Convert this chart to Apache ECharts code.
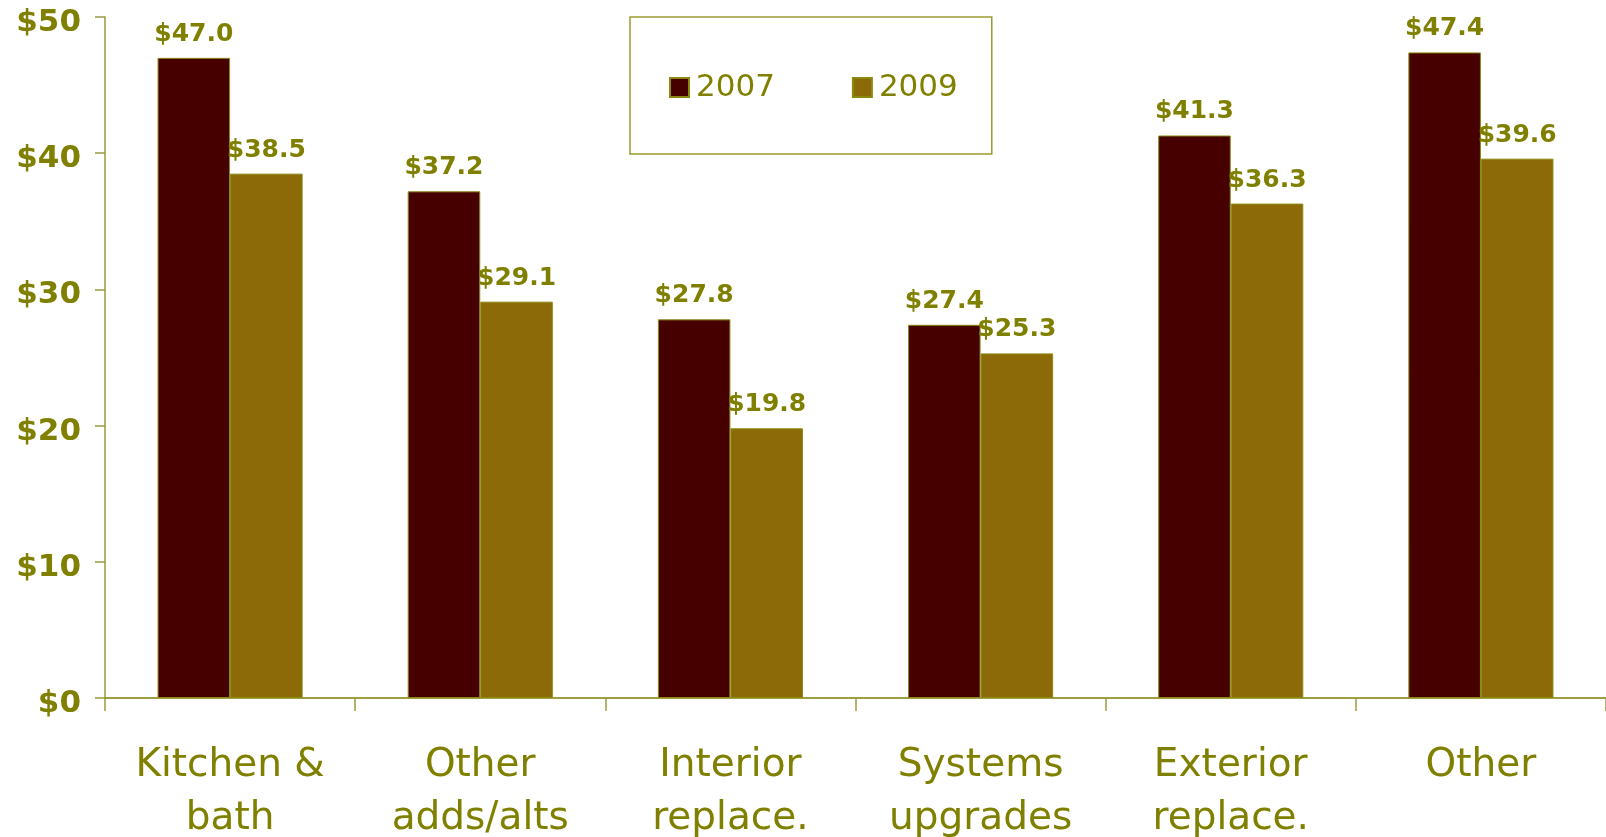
<!DOCTYPE html>
<html>
<head>
<meta charset="utf-8">
<script src="https://cdn.jsdelivr.net/npm/echarts@6/dist/echarts.min.js"></script>
<style>
html,body{margin:0;padding:0;background:#fff;}
#chart{width:1606px;height:837px;}
</style>
</head>
<body>
<div id="chart"></div>
<script>
const categories = ['Kitchen &\nbath', 'Other\nadds/alts', 'Interior\nreplace.', 'Systems\nupgrades', 'Exterior\nreplace.', 'Other'];
const values2007 = [47.0, 37.2, 27.8, 27.4, 41.3, 47.4];
const values2009 = [38.5, 29.1, 19.8, 25.3, 36.3, 39.6];
const seriesNames = ['2007', '2009'];
const yTicks = { min: 0, max: 50, interval: 10 };

const olive = '#808000';
const font = 'DejaVu Sans';

const chart = echarts.init(document.getElementById('chart'), null, { renderer: 'canvas' });

const labelCfg = {
  show: true,
  position: 'top',
  distance: 11,
  color: olive,
  fontFamily: font,
  fontWeight: 'bold',
  fontSize: 25,
  formatter: p => '$' + p.value.toFixed(1)
};

chart.setOption({
  animation: false,
  backgroundColor: '#ffffff',
  grid: { left: 105, right: 0, top: 17, bottom: 139, containLabel: false, outerBoundsMode: 'none' },
  legend: {
    left: 630,
    top: 17,
    width: 359,
    orient: 'horizontal',
    padding: [55, 34, 51, 39],
    borderColor: '#9a9a30',
    borderWidth: 1.5,
    backgroundColor: '#fff',
    itemWidth: 19,
    itemHeight: 19,
    itemGap: 77,
    icon: 'rect',
    textStyle: { color: olive, fontFamily: font, fontSize: 31, padding: [0, 0, 0, 2] },
    data: seriesNames
  },
  xAxis: {
    type: 'category',
    data: categories,
    axisLine: { show: true, lineStyle: { color: olive, width: 1.5 } },
    axisTick: { show: true, alignWithLabel: false, length: 13, lineStyle: { color: '#9a9a40', width: 1.5 } },
    axisLabel: {
      color: olive,
      fontFamily: font,
      fontSize: 39,
      lineHeight: 53,
      margin: 41,
      interval: 0
    }
  },
  yAxis: {
    type: 'value',
    min: yTicks.min,
    max: yTicks.max,
    interval: yTicks.interval,
    splitLine: { show: false },
    axisLine: { show: true, lineStyle: { color: '#9a9a40', width: 1.5 } },
    axisTick: { show: true, length: 10, lineStyle: { color: '#9a9a40', width: 1.5 } },
    axisLabel: {
      color: olive,
      fontFamily: font,
      fontWeight: 'bold',
      fontSize: 31,
      margin: 24,
      formatter: v => '{v|$' + v + '}',
      rich: {
        v: {
          color: olive,
          fontFamily: font,
          fontWeight: 'bold',
          fontSize: 31,
          padding: [12, 0, 0, 0]
        }
      }
    }
  },
  series: [
    {
      name: seriesNames[0],
      type: 'bar',
      data: values2007,
      barGap: '0%',
      barCategoryGap: '42%',
      itemStyle: { color: '#470000', borderColor: '#8a8a10', borderWidth: 1 },
      label: labelCfg
    },
    {
      name: seriesNames[1],
      type: 'bar',
      data: values2009,
      barGap: '0%',
      barCategoryGap: '42%',
      itemStyle: { color: '#8B6A07', borderColor: '#8a8a10', borderWidth: 1 },
      label: labelCfg
    }
  ]
});
</script>
</body>
</html>
